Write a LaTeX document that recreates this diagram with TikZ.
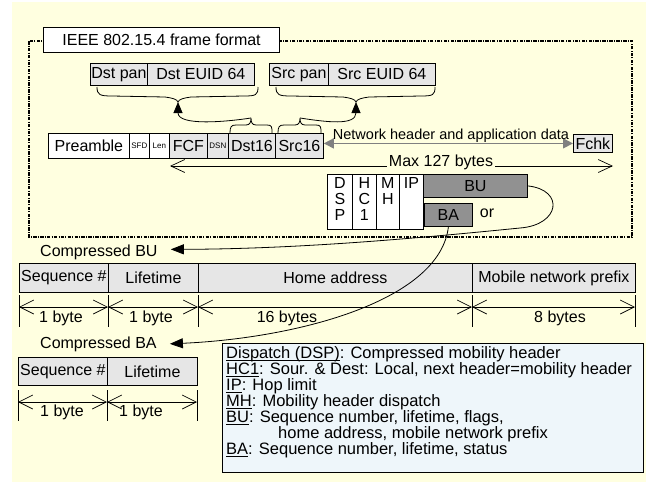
\documentclass[tikz,border=0pt]{standalone}
\usepackage{fontspec}
\setmainfont{Liberation Sans}
\usetikzlibrary{arrows.meta}
\definecolor{bgyellow}{RGB}{255,255,224}
\definecolor{cellgray}{RGB}{230,230,230}
\definecolor{dkgray}{RGB}{145,145,145}
\definecolor{legendfill}{RGB}{238,246,250}
\definecolor{arrowgray}{RGB}{128,128,128}
\newcommand\myul[1]{{\setbox0\hbox{#1}\rlap{\rule[-2.2pt]{\wd0}{0.8pt}}\box0}}
\begin{document}
\begin{tikzpicture}[x=1pt,y=-1pt,
  every node/.style={font=\fontsize{16}{16}\selectfont, inner sep=0pt},
  cell/.style={draw=black, line width=0.8pt, anchor=north west, inner sep=0pt},
  lcell/.style={cell, fill=cellgray},
  wcell/.style={cell, fill=white},
  dcell/.style={cell, fill=dkgray},
  tiny/.style={font=\fontsize{8}{8}\selectfont},
  legend/.style={anchor=base west, font=\fontsize{16.5}{16}\selectfont},
  conn/.style={line width=0.8pt, black},
  fillhead/.style={conn, -{Triangle[length=11pt,width=9pt]}},
  barbs/.style={{Straight Barb[length=14pt,width=14pt]}-{Straight Barb[length=14pt,width=14pt]}, line width=0.7pt},
  tick/.style={line width=0.7pt},
  ]
\useasboundingbox (0,0) rectangle (646,482);
\fill[bgyellow] (12,2) rectangle (646,482);

% dashed frame
\draw[line width=1.1pt, dash pattern=on 3.5pt off 1.2pt on 1pt off 1.2pt] (29,41) rectangle (632,237);
\node[wcell, line width=1.1pt, minimum width=236pt, minimum height=25pt] (title) at (43,27) {IEEE 802.15.4 frame format};

% address boxes
\node[lcell, minimum width=57pt, minimum height=22pt] (dstpan) at (90,63) {Dst pan};
\node[lcell, minimum width=107pt, minimum height=22pt] (dsteuid) at (147,63) {Dst EUID 64};
\node[lcell, minimum width=59pt, minimum height=22pt] (srcpan) at (269,63) {Src pan};
\node[lcell, minimum width=107pt, minimum height=22pt] (srceuid) at (328,63) {Src EUID 64};

% frame row
\node[wcell, minimum width=81pt, minimum height=25pt] (pre) at (48,133) {Preamble};
\node[wcell, minimum width=20pt, minimum height=25pt, tiny] (sfd) at (129,133) {SFD};
\node[wcell, minimum width=20pt, minimum height=25pt, tiny] (len) at (149,133) {Len};
\node[lcell, minimum width=38pt, minimum height=25pt] (fcf) at (169,133) {FCF};
\node[lcell, minimum width=21pt, minimum height=25pt, tiny] (dsn) at (207,133) {DSN};
\node[lcell, minimum width=47pt, minimum height=25pt] (dst16) at (228,133) {Dst16};
\node[lcell, minimum width=48pt, minimum height=25pt] (src16) at (275,133) {Src16};
\node[lcell, minimum width=39pt, minimum height=18pt] (fchk) at (573,134) {Fchk};

% big braces
\draw[conn] (97,87) .. controls (97,95) and (100,96) .. (112,96) -- (165,97) .. controls (172,98) and (177,99) .. (178,102)
  .. controls (179,99) and (184,98) .. (191,97) -- (244,96) .. controls (256,96) and (258,95) .. (258,87);
\draw[conn] (276,87) .. controls (276,95) and (279,96) .. (291,96) -- (343,97) .. controls (350,98) and (355,99) .. (356,102)
  .. controls (357,99) and (362,98) .. (369,97) -- (421,96) .. controls (433,96) and (435,95) .. (435,87);
\coordinate (dstbig) at (178,102);
\coordinate (srcbig) at (356,102);
% small braces
\draw[conn] (230,133) .. controls (230,127) and (231,125) .. (236,125) -- (246,125) .. controls (250,125) and (251,122) .. (251,118)
  .. controls (251,122) and (252,125) .. (256,125) -- (267,125) .. controls (272,125) and (272,127) .. (272,133);
\draw[conn] (278,133) .. controls (278,127) and (279,125) .. (284,125) -- (295,125) .. controls (299,125) and (300,122) .. (300,118)
  .. controls (300,122) and (301,125) .. (305,125) -- (316,125) .. controls (321,125) and (321,127) .. (321,133);
\coordinate (dstsmall) at (251,118);
\coordinate (srcsmall) at (300,118);
\draw[fillhead] (dstsmall) .. controls (225,122) and (178,126) .. (dstbig);
\draw[fillhead] (srcsmall) .. controls (326,122) and (356,126) .. (srcbig);

% network header arrow
\draw[arrowgray, line width=1.6pt, {Triangle[length=10pt,width=10pt]}-{Triangle[length=10pt,width=10pt]}] (src16.east |- fchk.west) -- (fchk.west);
\node[anchor=base, font=\fontsize{14.5}{16}\selectfont] (nhlabel) at (451,139) {Network header and application data};

% max 127 bytes
\coordinate (maxL) at (170,166);
\coordinate (maxR) at (613,166);
\draw[line width=0.7pt, {Straight Barb[length=14pt,width=13pt]}-{Straight Barb[length=14pt,width=13pt]}] (maxL) -- (maxR);
\node[anchor=base, fill=bgyellow, inner xsep=2pt, inner ysep=1pt] (maxlabel) at (441,166) {Max 127 bytes};

% compressed header boxes
\node[wcell, minimum width=25pt, minimum height=55pt] (dsp) at (327,174) {};
\node[wcell, minimum width=24pt, minimum height=55pt] (hc1) at (352,174) {};
\node[wcell, minimum width=23pt, minimum height=55pt] (mh) at (376,174) {};
\node[wcell, minimum width=24pt, minimum height=55pt] (ip) at (399,174) {};
\node[anchor=north, align=center, yshift=-3pt] (dspT) at (dsp.north) {D\\S\\P};
\node[anchor=north, align=center, yshift=-3pt] (hc1T) at (hc1.north) {H\\C\\1};
\node[anchor=north, align=center, yshift=-3pt] (mhT) at (mh.north) {M\\H};
\node[anchor=north, align=center, yshift=-3pt] (ipT) at (ip.north) {IP};
\node[dcell, minimum width=104pt, minimum height=23pt] (bu) at (423,174) {BU};
\node[dcell, minimum width=48pt, minimum height=23pt] (ba) at (424,203) {BA};
\node (or) at (487,213) {or};

% compressed labels
\node[anchor=base west] (cbu) at (40,256.5) {Compressed BU};
\node[anchor=base west] (cba) at (40,348) {Compressed BA};

% BU table
\node[lcell, minimum width=89pt, minimum height=29pt] (buseq) at (19,263) {Sequence \#};
\node[lcell, minimum width=90pt, minimum height=29pt] (bulife) at (108,263) {Lifetime};
\node[lcell, minimum width=274pt, minimum height=29pt] (buhome) at (198,263) {Home address};
\node[lcell, minimum width=163pt, minimum height=29pt] (bumnp) at (472,263) {Mobile network prefix};
\foreach \x in {19,108,198,472,635} \draw[tick] (\x,295) -- (\x,327);
\coordinate (a1) at (19,307);
\coordinate (a2) at (108,307);
\coordinate (a3) at (198,307);
\coordinate (a4) at (472,307);
\coordinate (a5) at (635,307);
\draw[barbs] (a1) -- (a2);
\draw[barbs] (a2) -- (a3);
\draw[barbs] (a3) -- (a4);
\draw[barbs] (a4) -- (a5);
\node (d1) at (61,318) {1 byte};
\node (d2) at (151,318) {1 byte};
\node (d3) at (287,318) {16 bytes};
\node (d4) at (560,318) {8 bytes};

% BA table
\node[lcell, minimum width=89pt, minimum height=28pt] (baseq) at (18,357) {Sequence \#};
\node[lcell, minimum width=90pt, minimum height=28pt] (balife) at (107,357) {Lifetime};
\foreach \x in {18,107,197} \draw[tick] (\x,390) -- (\x,421);
\coordinate (b1) at (18,402);
\coordinate (b2) at (107,402);
\coordinate (b3) at (197,402);
\draw[barbs] (b1) -- (b2);
\draw[barbs] (b2) -- (b3);
\node (e1) at (62,412) {1 byte};
\node (e2) at (141,412) {1 byte};

% curved connectors
\draw[conn, -{Triangle[length=13pt,width=10pt]}] (bu.east) .. controls (565,190) and (560,225) .. (520,228) .. controls (420,238) and (300,249) .. ([xshift=13pt,yshift=3pt]cbu.east);
\draw[conn, -{Triangle[length=13pt,width=10pt]}] (ba.south) .. controls (440,300) and (300,338) .. ([xshift=13pt]cba.east);

% legend
\node[cell, fill=legendfill, minimum width=421pt, minimum height=129pt] (legendbox) at (222,343) {};
\node[legend] (lg1) at (226,358.5) {\myul{Dispatch (DSP)}: Compressed mobility header};
\node[legend] (lg2) at (226,374.5) {\myul{HC1}: Sour. \& Dest: Local, next header=mobility header};
\node[legend] (lg3) at (226,390.5) {\myul{IP}: Hop limit};
\node[legend] (lg4) at (226,406.5) {\myul{MH}: Mobility header dispatch};
\node[legend] (lg5) at (226,422.5) {\myul{BU}: Sequence number, lifetime, flags,};
\node[legend] (lg6) at (278,438.5) {home address, mobile network prefix};
\node[legend] (lg7) at (226,454.5) {\myul{BA}: Sequence number, lifetime, status};
\end{tikzpicture}
\end{document}
